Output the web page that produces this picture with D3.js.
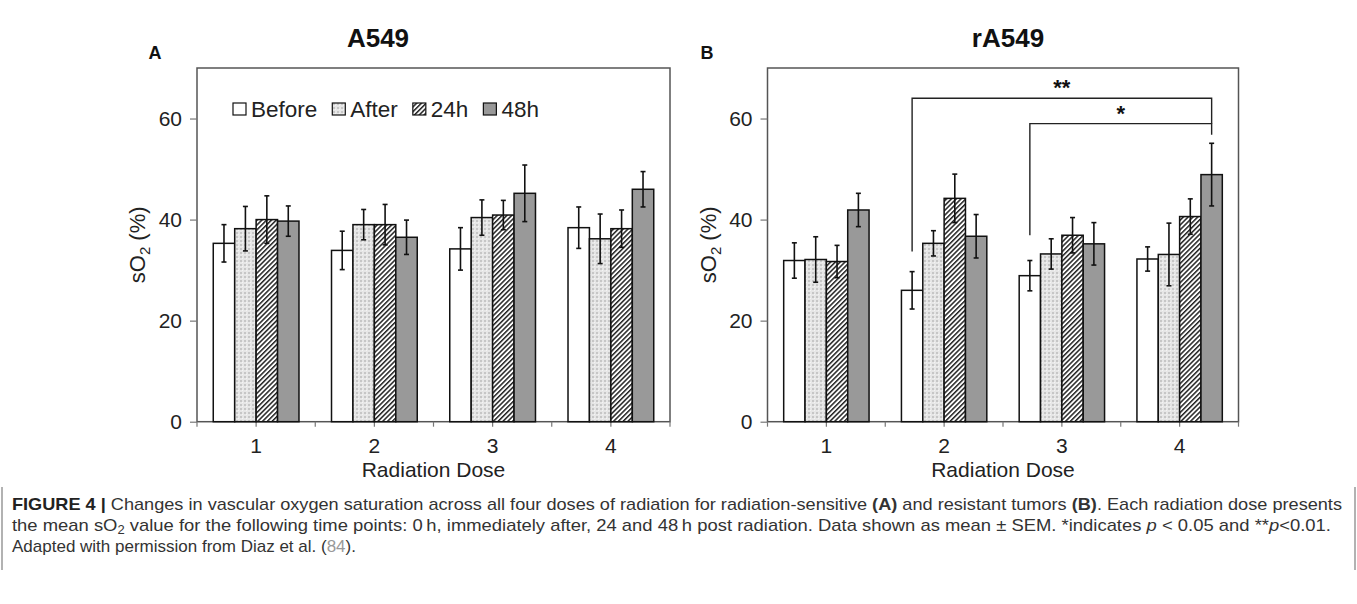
<!DOCTYPE html>
<html>
<head>
<meta charset="utf-8">
<script src="https://cdn.jsdelivr.net/npm/d3@7"></script>
<style>
  body { margin: 0; background: #fff; }
  svg { display: block; font-family: "Liberation Sans", Arial, sans-serif; }
</style>
</head>
<body>
<div id="chart"></div>
<script>
// data
const doses = ["1", "2", "3", "4"];
const series = ["Before", "After", "24h", "48h"];

// A549 (radiation-sensitive), mean and SEM per series, by dose
const meanA = {
    "Before": [35.3, 33.9, 34.2, 38.4],
    "After":  [38.2, 39.0, 40.4, 36.2],
    "24h":    [40.0, 39.0, 40.9, 38.2],
    "48h":    [39.7, 36.5, 45.2, 46.0]
};
const semA = {
    "Before": [3.7, 3.8, 4.2, 4.1],
    "After":  [4.4, 3.0, 3.5, 4.9],
    "24h":    [4.7, 4.0, 2.9, 3.7],
    "48h":    [3.0, 3.4, 5.6, 3.5]
};

// rA549 (radiation-resistant)
const meanB = {
    "Before": [31.9, 26.0, 28.9, 32.2],
    "After":  [32.1, 35.3, 33.2, 33.1],
    "24h":    [31.7, 44.2, 36.9, 40.6],
    "48h":    [41.9, 36.7, 35.2, 48.9]
};
const semB = {
    "Before": [3.5, 3.7, 3.0, 2.4],
    "After":  [4.5, 2.5, 3.0, 6.2],
    "24h":    [3.2, 4.8, 3.5, 3.5],
    "48h":    [3.3, 4.3, 4.2, 6.2]
};

const yTicks = [0, 20, 40, 60];

// significance brackets for panel B: [from dose, from series, to dose, to series, bar level, left leg end, right leg end, label]
const brackets = [
    ["2", "Before", "4", "48h", 64, 33.7, 59, "**"],
    ["3", "Before", "4", "48h", 59, 36.9, 56.8, "*"]
];

const width = 1357, height = 604;
const svg = d3.select("#chart").append("svg")
    .attr("width", width)
    .attr("height", height);

// fill patterns
const defs = svg.append("defs");

const dots = defs.append("pattern")
    .attr("id", "pat-after")
    .attr("patternUnits", "userSpaceOnUse")
    .attr("width", 4).attr("height", 4);
dots.append("rect").attr("width", 4).attr("height", 4).attr("fill", "#e6e6e6");
dots.append("rect").attr("x", 0).attr("y", 0).attr("width", 2).attr("height", 2).attr("fill", "#c6c6c6");
dots.append("rect").attr("x", 2).attr("y", 2).attr("width", 1).attr("height", 1).attr("fill", "#f4f4f4");

const hatch = defs.append("pattern")
    .attr("id", "pat-24h")
    .attr("patternUnits", "userSpaceOnUse")
    .attr("width", 3.4).attr("height", 6)
    .attr("patternTransform", "rotate(45)");
hatch.append("rect").attr("width", 3.4).attr("height", 6).attr("fill", "#ffffff");
hatch.append("rect").attr("x", 0).attr("y", 0).attr("width", 1.5).attr("height", 6).attr("fill", "#222");

const fills = {
    "Before": "#ffffff",
    "After": "url(#pat-after)",
    "24h": "url(#pat-24h)",
    "48h": "#999999"
};

const plotTop = 68, plotBottom = 421.7;
const y = d3.scaleLinear().domain([0, 70]).range([plotBottom, plotTop]);

function drawPanel(opts) {
    const { x0, x1, mean, sem, title, titleX, letter, letterX, labelX } = opts;
    const g = svg.append("g");

    const x = d3.scaleBand()
        .domain(doses)
        .range([x0, x1])
        .paddingInner(0.275)
        .paddingOuter(0.1375);
    const xs = d3.scaleBand()
        .domain(series)
        .range([0, x.bandwidth()]);

    // plot frame
    g.append("rect")
        .attr("x", x0).attr("y", plotTop)
        .attr("width", x1 - x0).attr("height", plotBottom - plotTop)
        .attr("fill", "none")
        .attr("stroke", "#555")
        .attr("stroke-width", 1.5);

    // y axis
    const yAxis = g.append("g")
        .attr("transform", `translate(${x0},0)`)
        .call(d3.axisLeft(y).tickValues(yTicks).tickSize(7).tickPadding(8));
    yAxis.select(".domain").remove();
    yAxis.selectAll(".tick line").attr("stroke", "#777").attr("stroke-width", 1.2);
    yAxis.selectAll(".tick text")
        .attr("font-size", 21)
        .attr("font-family", "Liberation Sans, Arial, sans-serif")
        .attr("fill", "#222");

    // x axis: ticks at band edges and centres
    const edgeTicks = d3.range(0, 9).map(i => x0 + i * (x1 - x0) / 8);
    g.append("g").selectAll("line")
        .data(edgeTicks)
        .enter().append("line")
        .attr("x1", d => d).attr("x2", d => d)
        .attr("y1", plotBottom).attr("y2", plotBottom + 5)
        .attr("stroke", "#777").attr("stroke-width", 1.2);
    g.append("g").selectAll("text")
        .data(doses)
        .enter().append("text")
        .attr("x", d => x(d) + x.bandwidth() / 2)
        .attr("y", 453)
        .attr("text-anchor", "middle")
        .attr("font-size", 21)
        .attr("fill", "#222")
        .text(d => d);

    g.append("text")
        .attr("x", (x0 + x1) / 2)
        .attr("y", 477)
        .attr("text-anchor", "middle")
        .attr("font-size", 21)
        .attr("fill", "#222")
        .text("Radiation Dose");

    // y label
    const yl = g.append("text")
        .attr("transform", `translate(${labelX},${(plotTop + plotBottom) / 2}) rotate(-90)`)
        .attr("text-anchor", "middle")
        .attr("font-size", 22)
        .attr("fill", "#222");
    yl.append("tspan").text("sO");
    yl.append("tspan").attr("font-size", 15).attr("dy", 5).text("2");
    yl.append("tspan").attr("dy", -5).text(" (%)");

    // title and panel letter
    g.append("text")
        .attr("x", titleX).attr("y", 47)
        .attr("text-anchor", "middle")
        .attr("font-size", 26)
        .attr("font-weight", "bold")
        .attr("fill", "#111")
        .text(title);
    g.append("text")
        .attr("x", letterX).attr("y", 59)
        .attr("text-anchor", "middle")
        .attr("font-size", 18)
        .attr("font-weight", "bold")
        .attr("fill", "#111")
        .text(letter);

    // bars
    const rows = [];
    doses.forEach((d, i) => series.forEach(s => rows.push({ dose: d, s: s, v: mean[s][i], e: sem[s][i] })));

    g.append("g").selectAll("rect")
        .data(rows)
        .enter().append("rect")
        .attr("x", d => x(d.dose) + xs(d.s))
        .attr("y", d => y(d.v))
        .attr("width", xs.bandwidth())
        .attr("height", d => plotBottom - y(d.v))
        .attr("fill", d => fills[d.s])
        .attr("stroke", "#111")
        .attr("stroke-width", 1.5);

    // error bars
    const eb = g.append("g").attr("stroke", "#111").attr("stroke-width", 1.6);
    rows.forEach(d => {
        const cx = x(d.dose) + xs(d.s) + xs.bandwidth() / 2;
        eb.append("line").attr("x1", cx).attr("x2", cx).attr("y1", y(d.v + d.e)).attr("y2", y(d.v - d.e));
        eb.append("line").attr("x1", cx - 2.5).attr("x2", cx + 2.5).attr("y1", y(d.v + d.e)).attr("y2", y(d.v + d.e));
        eb.append("line").attr("x1", cx - 2.5).attr("x2", cx + 2.5).attr("y1", y(d.v - d.e)).attr("y2", y(d.v - d.e));
    });

    return { g, x, xs };
}

const panelA = drawPanel({
    x0: 197, x1: 670, mean: meanA, sem: semA,
    title: "A549", titleX: 378, letter: "A", letterX: 155, labelX: 145
});

// legend (panel A)
const legend = panelA.g.append("g").attr("transform", "translate(233,103)");
let lx = 0;
series.forEach(s => {
    legend.append("rect")
        .attr("x", lx).attr("y", 0)
        .attr("width", 13).attr("height", 12)
        .attr("fill", fills[s])
        .attr("stroke", "#111").attr("stroke-width", 1.2);
    const t = legend.append("text")
        .attr("x", lx + 18).attr("y", 13.5)
        .attr("font-size", 22.5)
        .attr("fill", "#222")
        .text(s);
    lx += 18 + t.node().getComputedTextLength() + 15;
});

const panelB = drawPanel({
    x0: 767.5, x1: 1238.5, mean: meanB, sem: semB,
    title: "rA549", titleX: 1008, letter: "B", letterX: 707, labelX: 716
});

// significance brackets
brackets.forEach(b => {
    const [d1, s1, d2, s2, lvl, legL, legR, lab] = b;
    const xL = panelB.x(d1) + panelB.xs(s1) + panelB.xs.bandwidth() / 2;
    const xR = panelB.x(d2) + panelB.xs(s2) + panelB.xs.bandwidth() / 2;
    panelB.g.append("path")
        .attr("d", `M${xL},${y(legL)}V${y(lvl)}H${xR}V${y(legR)}`)
        .attr("fill", "none")
        .attr("stroke", "#222")
        .attr("stroke-width", 1.4);
    panelB.g.append("text")
        .attr("x", (xL + xR) / 2)
        .attr("y", y(lvl) - 3)
        .attr("text-anchor", "middle")
        .attr("font-size", 22)
        .attr("font-weight", "bold")
        .attr("fill", "#111")
        .text(lab);
});

// caption
const cap = svg.append("g").attr("fill", "#333").attr("font-size", 17);
cap.append("line").attr("x1", 2).attr("x2", 2).attr("y1", 487).attr("y2", 570).attr("stroke", "#999").attr("stroke-width", 1.5);
cap.append("line").attr("x1", 1355).attr("x2", 1355).attr("y1", 487).attr("y2", 570).attr("stroke", "#999").attr("stroke-width", 1.5);

const l1 = cap.append("text").attr("x", 12).attr("y", 510)
    .attr("textLength", 1330).attr("lengthAdjust", "spacingAndGlyphs");
l1.append("tspan").attr("font-weight", "bold").attr("fill", "#222").text("FIGURE 4 | ");
l1.append("tspan").text("Changes in vascular oxygen saturation across all four doses of radiation for radiation-sensitive ");
l1.append("tspan").attr("font-weight", "bold").text("(A)");
l1.append("tspan").text(" and resistant tumors ");
l1.append("tspan").attr("font-weight", "bold").text("(B)");
l1.append("tspan").text(". Each radiation dose presents");

const l2 = cap.append("text").attr("x", 12).attr("y", 531)
    .attr("textLength", 1319).attr("lengthAdjust", "spacingAndGlyphs");
l2.append("tspan").text("the mean sO");
l2.append("tspan").attr("font-size", 12).attr("dy", 3).text("2");
l2.append("tspan").attr("dy", -3).text(" value for the following time points: 0\u2009h, immediately after, 24 and 48\u2009h post radiation. Data shown as mean \u00b1 SEM. *indicates ");
l2.append("tspan").attr("font-style", "italic").text("p");
l2.append("tspan").text(" < 0.05 and **");
l2.append("tspan").attr("font-style", "italic").text("p");
l2.append("tspan").text("<0.01.");

const l3 = cap.append("text").attr("x", 12).attr("y", 552);
l3.append("tspan").text("Adapted with permission from Diaz et al. (");
l3.append("tspan").attr("fill", "#999").text("84");
l3.append("tspan").text(").");
</script>
</body>
</html>
